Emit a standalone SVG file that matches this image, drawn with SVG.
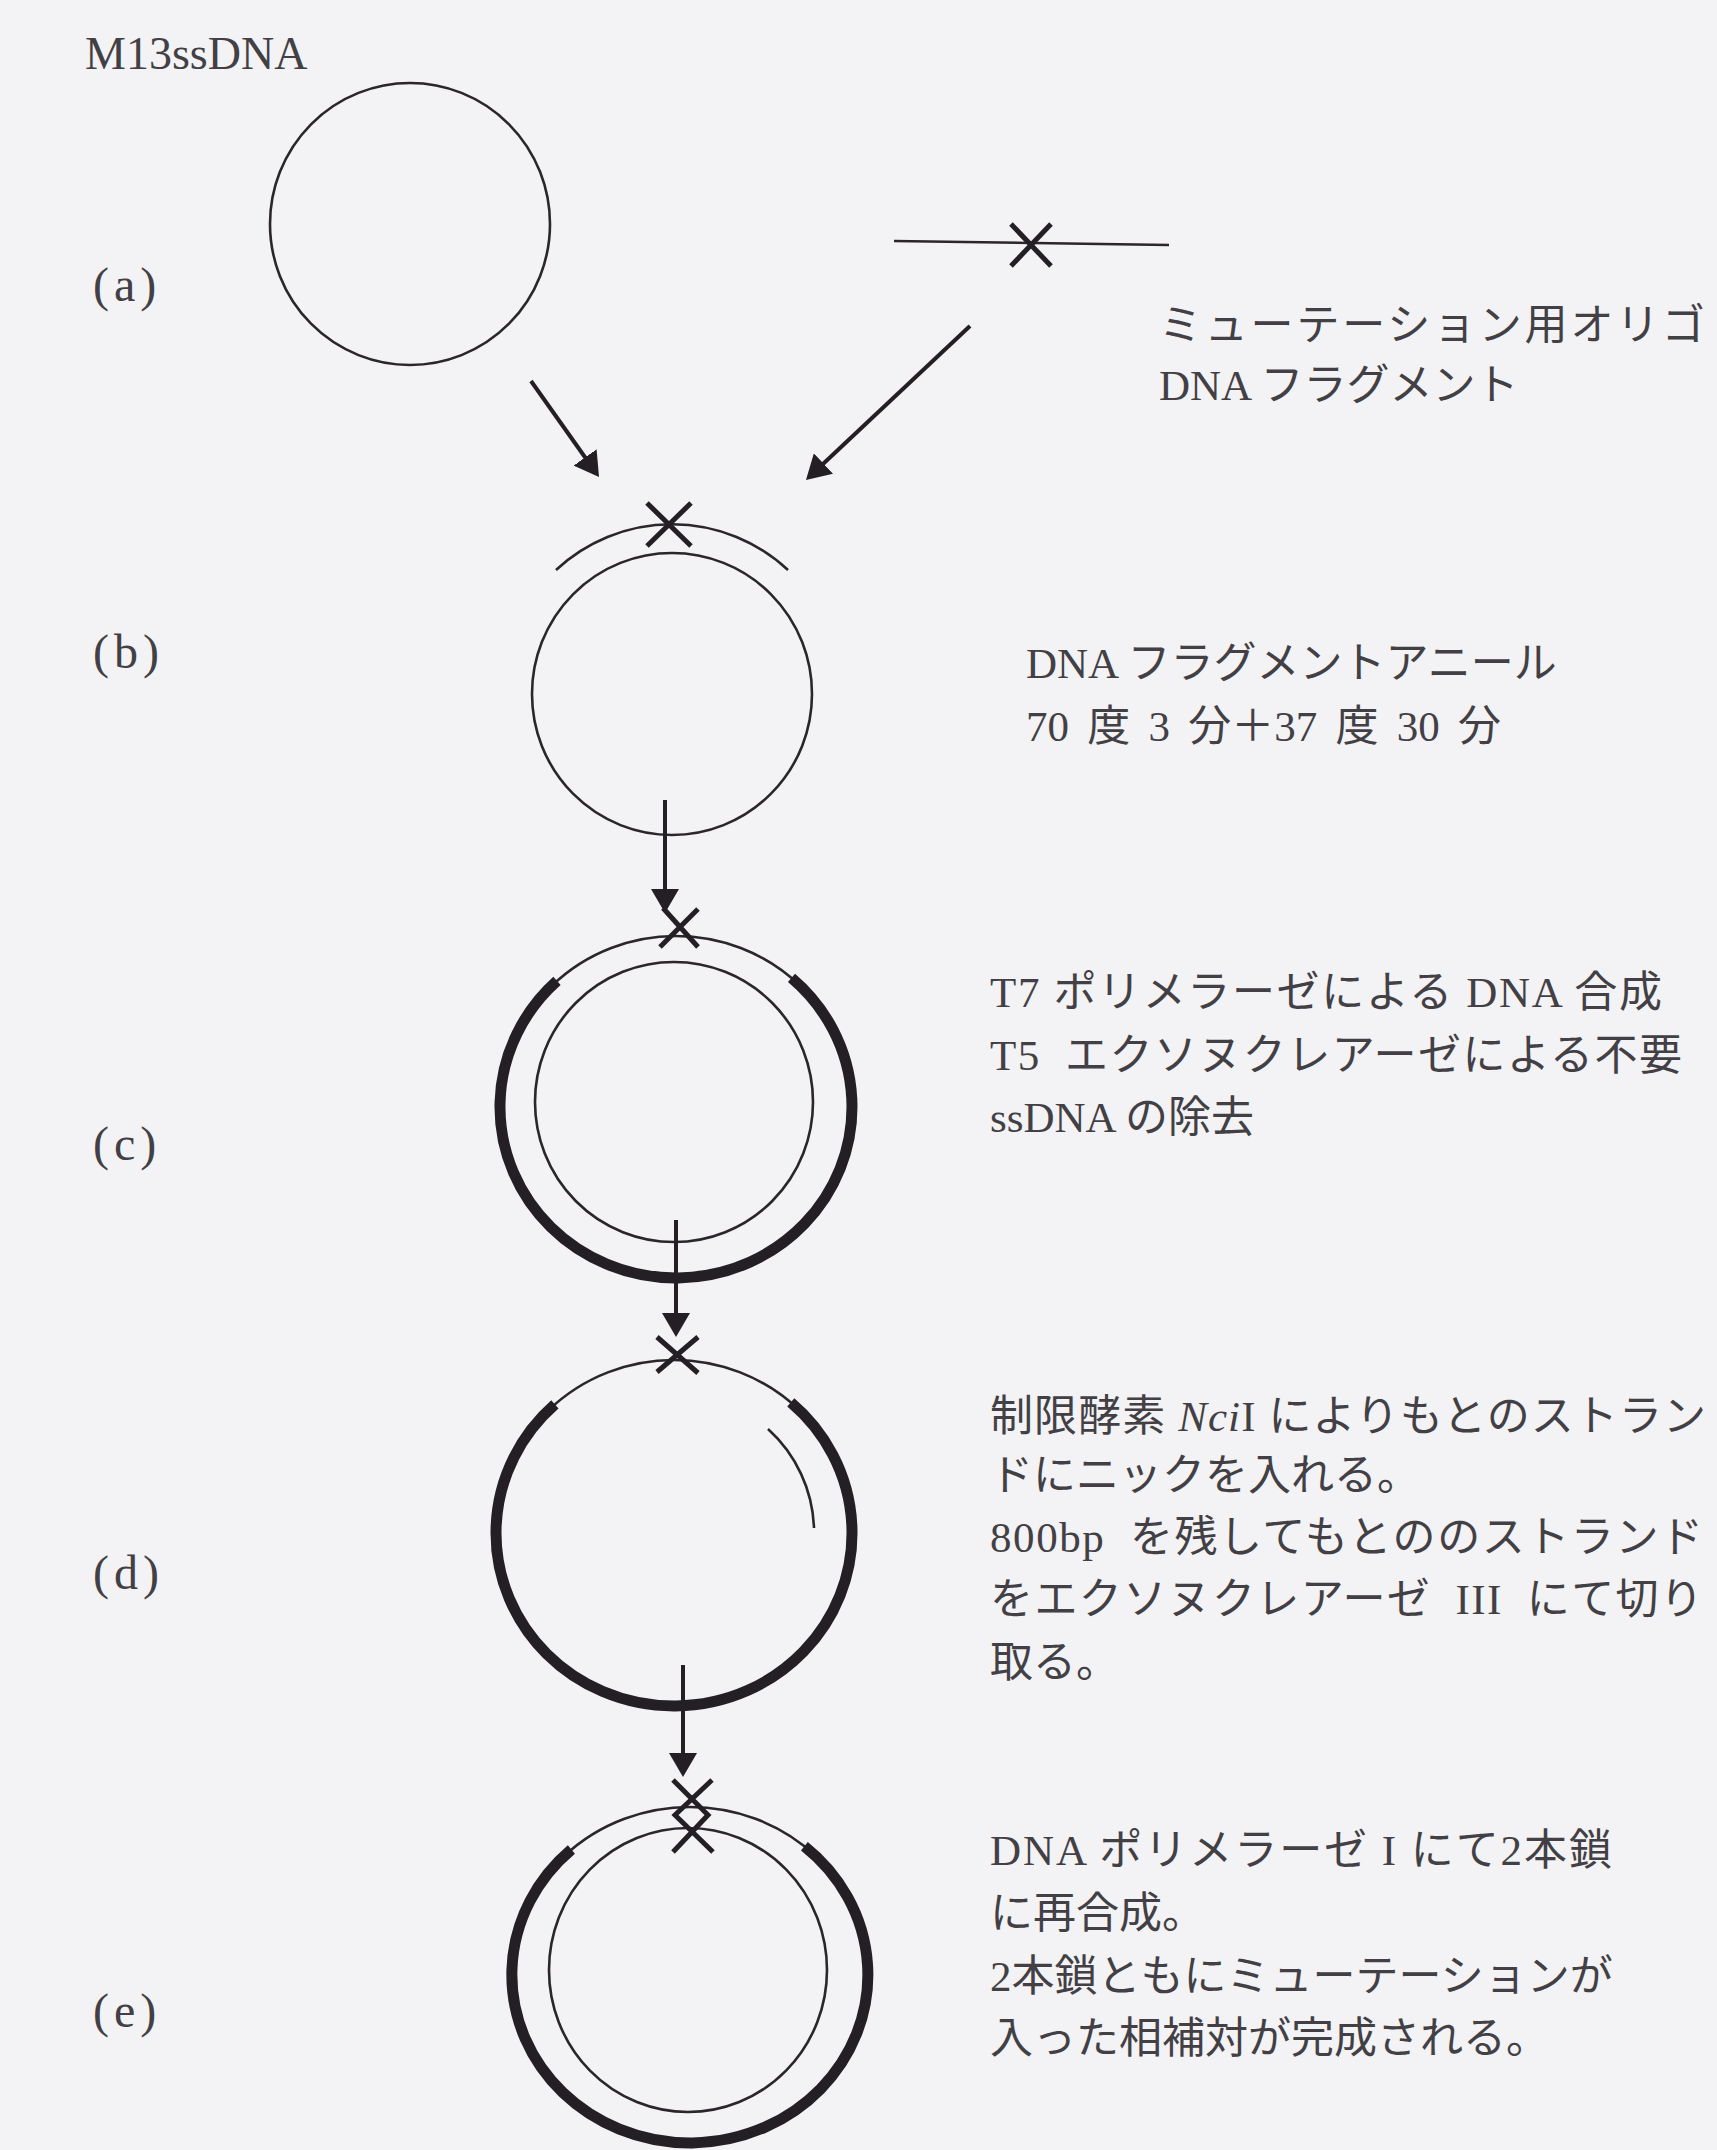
<svg xmlns="http://www.w3.org/2000/svg" width="1717" height="2150" viewBox="0 0 1717 2150">
<style>
.bg{fill:#f3f2f4}
.thin{fill:none;stroke:#2a262b;stroke-width:2.6}
.thick{fill:none;stroke:#241f25;stroke-width:11}
.mark{fill:none;stroke:#241f25;stroke-width:5}
.conn{fill:none;stroke:#241f25;stroke-width:4}
.lbl{font-family:"Liberation Serif","Noto Sans CJK JP",serif;font-size:48px;fill:#424044}
.title{font-family:"Liberation Serif","Noto Sans CJK JP",serif;font-size:46px;fill:#424044}
.txt{font-family:"Liberation Serif","Noto Sans CJK JP",serif;font-size:43px;fill:#424044}
</style>
<defs>
<marker id="ah" viewBox="0 0 24 28" refX="16" refY="14" markerWidth="24" markerHeight="28" markerUnits="userSpaceOnUse" orient="auto">
<path d="M0,0 L24,14 L0,28 z" fill="#241f25"/>
</marker>
</defs>
<rect class="bg" x="0" y="0" width="1717" height="2150"/>

<text class="title" x="85" y="69">M13ssDNA</text>

<g id="node-a">
<ellipse class="thin" cx="410" cy="224" rx="140" ry="141"/>
<text class="lbl" x="93" y="301" letter-spacing="5">(a)</text>
</g>
<g id="node-oligo">
<line class="thin" x1="894" y1="241" x2="1169" y2="245" stroke-width="3"/>
<path class="mark" d="M1011,224 L1051,266 M1051,224 L1011,266"/>
<text class="txt" x="1159" y="340" textLength="546" lengthAdjust="spacing">ミューテーション用オリゴ</text>
<text class="txt" x="1159" y="400">DNA フラグメント</text>
</g>

<g id="node-b">
<ellipse class="thin" cx="672" cy="694" rx="140" ry="141"/>
<path class="thin" d="M556,570 A170,170 0 0 1 788,570"/>
<path class="mark" d="M647,503 L691,546 M691,503 L647,546"/>
<text class="lbl" x="93" y="668" letter-spacing="5">(b)</text>
<text class="txt" x="1026" y="678">DNA フラグメントアニール</text>
<text class="txt" x="1026" y="741" word-spacing="7.5">70 度 3 分＋37 度 30 分</text>
</g>

<g id="node-c">
<ellipse class="thin" cx="676" cy="1107" rx="176" ry="171"/>
<path class="thick" d="M791.5,977.9 A176,171 0 1 1 557,980.9"/>
<ellipse class="thin" cx="674" cy="1102" rx="139" ry="140"/>
<path class="mark" d="M663,908 L698,947 M698,909 L660,947"/>
<text class="lbl" x="93" y="1160" letter-spacing="5">(c)</text>
<text class="txt" x="990" y="1007" textLength="672" lengthAdjust="spacing">T7 ポリメラーゼによる DNA 合成</text>
<text class="txt" x="990" y="1070" xml:space="preserve" textLength="692" lengthAdjust="spacing">T5  エクソヌクレアーゼによる不要</text>
<text class="txt" x="990" y="1132">ssDNA の除去</text>
</g>

<g id="node-d">
<ellipse class="thin" cx="674" cy="1533" rx="178" ry="173"/>
<path class="thick" d="M790.8,1402.4 A178,173 0 1 1 554.9,1404.4"/>
<path class="thin" d="M768,1429 A140,140 0 0 1 814,1528"/>
<path class="mark" d="M657,1337 L698,1373 M698,1337 L657,1372"/>
<text class="lbl" x="93" y="1589" letter-spacing="5">(d)</text>
<text class="txt" x="990" y="1431" textLength="716" lengthAdjust="spacing">制限酵素 <tspan font-style="italic">Nci</tspan>I によりもとのストラン</text>
<text class="txt" x="990" y="1490">ドにニックを入れる。</text>
<text class="txt" x="990" y="1552" xml:space="preserve" textLength="713" lengthAdjust="spacing">800bp  を残してもとののストランド</text>
<text class="txt" x="990" y="1614" xml:space="preserve" textLength="713" lengthAdjust="spacing">をエクソヌクレアーゼ  III  にて切り</text>
<text class="txt" x="990" y="1677">取る。</text>
</g>

<g id="node-e">
<ellipse class="thin" cx="690" cy="1975" rx="178" ry="168"/>
<path class="thick" d="M804.4,1846.3 A178,168 0 1 1 571.4,1849.5"/>
<ellipse class="thin" cx="688" cy="1970" rx="139" ry="142"/>
<path class="mark" d="M673,1780 L708,1815 L673,1852 M712,1780 L675,1815 L713,1852"/>
<text class="lbl" x="93" y="2027" letter-spacing="5">(e)</text>
<text class="txt" x="990" y="1865" textLength="622" lengthAdjust="spacing">DNA ポリメラーゼ I にて2本鎖</text>
<text class="txt" x="990" y="1928">に再合成。</text>
<text class="txt" x="990" y="1991">2本鎖ともにミューテーションが</text>
<text class="txt" x="990" y="2053">入った相補対が完成される。</text>
</g>

<g id="connectors">
<line class="conn" x1="531" y1="381" x2="594.4" y2="470.5" marker-end="url(#ah)"/>
<line class="conn" x1="970" y1="326" x2="811.8" y2="474.5" marker-end="url(#ah)"/>
<line class="conn" x1="665" y1="800" x2="665" y2="905" marker-end="url(#ah)"/>
<line class="conn" x1="676" y1="1220" x2="676" y2="1329" marker-end="url(#ah)"/>
<line class="conn" x1="683" y1="1665" x2="683" y2="1769" marker-end="url(#ah)"/>
</g>
</svg>
